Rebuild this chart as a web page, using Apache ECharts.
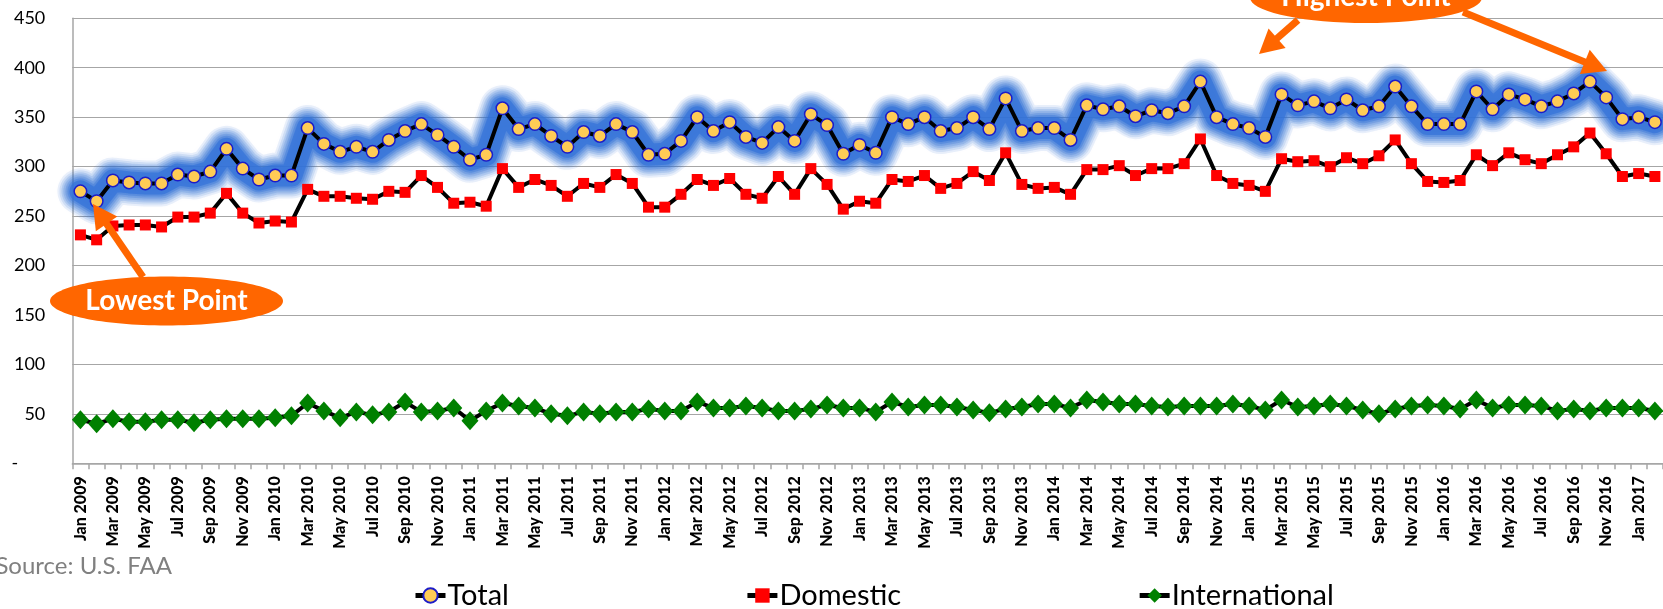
<!DOCTYPE html>
<html>
<head>
<meta charset="utf-8">
<script src="https://cdn.jsdelivr.net/npm/echarts@6/dist/echarts.min.js"></script>
<style>
html,body{margin:0;padding:0;background:#fff;}
#c{width:1663px;height:609px;}
</style>
</head>
<body>
<div id="c"></div>
<script>
const monthNames = ['Jan','Feb','Mar','Apr','May','Jun','Jul','Aug','Sep','Oct','Nov','Dec'];
const startYear = 2009;
const monthCount = 98; // Jan 2009 .. Feb 2017
const categories = [];
for (let i = 0; i < monthCount; i++) {
  categories.push(monthNames[i % 12] + ' ' + (startYear + Math.floor(i / 12)));
}

const totalValues = [
  275,265,286,284,283,283,292,290,295,318,298,287,
  291,291,339,323,315,320,315,327,336,343,332,320,
  307,312,359,338,343,331,320,335,331,343,335,312,
  313,326,350,336,345,330,324,340,326,353,342,313,
  322,314,350,343,350,336,339,350,338,369,336,339,
  339,327,362,358,361,351,357,354,361,386,350,343,
  339,330,373,362,366,359,368,357,361,381,361,343,
  343,343,376,358,373,368,361,366,374,386,370,348,
  350,345
];
const domesticValues = [
  231,226,240,241,241,239,249,249,253,273,253,243,
  245,244,277,270,270,268,267,275,274,291,279,263,
  264,260,298,279,287,281,270,283,279,292,283,259,
  259,272,287,281,288,272,268,290,272,298,282,257,
  265,263,287,285,291,278,283,295,286,314,282,278,
  279,272,297,297,301,291,298,298,303,328,291,283,
  281,275,308,305,306,300,309,303,311,327,303,285,
  284,286,312,301,314,307,303,312,320,334,313,290,
  293,290
];
const internationalValues = [
  44,40,45,42,42,44,44,41,44,45,45,45,
  46,48,61,53,46,52,49,52,62,52,53,56,
  43,53,61,58,56,50,48,52,50,52,52,55,
  53,53,62,56,56,58,56,53,53,55,59,56,
  56,52,62,57,59,59,57,54,51,55,57,60,
  60,56,64,62,60,60,58,57,58,58,58,60,
  58,54,64,57,58,60,58,54,50,55,58,59,
  58,55,64,56,59,59,58,53,55,53,56,56,
  56,53
];
const yTicks = { min: 0, max: 450, interval: 50 };
const seriesNames = ['Total', 'Domestic', 'International'];

const FONT = 'Lato, "Open Sans", sans-serif';
const ORANGE = '#FF6600';

function arrow(x1, y1, x2, y2) {
  const dx = x2 - x1, dy = y2 - y1;
  const len = Math.sqrt(dx * dx + dy * dy);
  const ux = dx / len, uy = dy / len;
  const px = -uy, py = ux;
  const headLen = 24, headW = 26;
  const bx = x2 - ux * headLen, by = y2 - uy * headLen;
  return [
    { type: 'line', shape: { x1: x1, y1: y1, x2: bx + ux * 2, y2: by + uy * 2 },
      style: { stroke: ORANGE, lineWidth: 7 }, z: 100 },
    { type: 'polygon', shape: { points: [[x2, y2], [bx + px * headW / 2, by + py * headW / 2], [bx - px * headW / 2, by - py * headW / 2]] },
      style: { fill: ORANGE }, z: 100 }
  ];
}

function glow(width, alpha, blur) {
  return {
    name: 'TotalGlow',
    type: 'line',
    data: totalValues,
    symbol: 'none',
    silent: true,
    lineStyle: {
      color: 'rgba(50,114,216,' + alpha + ')',
      width: width,
      cap: 'round',
      join: 'round',
      shadowBlur: blur,
      shadowColor: 'rgba(50,114,216,' + alpha + ')'
    },
    z: 1
  };
}

const glowSeries = [
  glow(46, 0.1, 8), glow(42, 0.12, 6), glow(38, 0.15, 6), glow(34, 0.18, 6),
  glow(30, 0.22, 6), glow(26, 0.3, 6), glow(22, 0.65, 6)
];

const chart = echarts.init(document.getElementById('c'), null, { renderer: 'canvas' });

const graphics = [].concat(
  [
    { type: 'ellipse', shape: { cx: 166.5, cy: 301, rx: 116.5, ry: 24.5 }, style: { fill: ORANGE }, z: 100 },
    { type: 'text', x: 166.5, y: 301, style: { text: 'Lowest Point', fill: '#fff', font: 'bold 28px ' + FONT, textAlign: 'center', textVerticalAlign: 'middle' }, z: 101 },
    { type: 'ellipse', shape: { cx: 1366, cy: -2.5, rx: 116, ry: 25.5 }, style: { fill: ORANGE }, z: 100 },
    { type: 'text', x: 1366, y: -3, style: { text: 'Highest Point', fill: '#fff', font: 'bold 28px ' + FONT, textAlign: 'center', textVerticalAlign: 'middle' }, z: 101 },
    { type: 'text', x: 172, y: 566, style: { text: 'Source: U.S. FAA', fill: '#808080', font: '24px ' + FONT, textAlign: 'right', textVerticalAlign: 'middle' }, z: 100 }
  ],
  arrow(143, 277, 93, 204),
  arrow(1298, 20, 1259, 54),
  arrow(1463, 12, 1607, 71)
);

chart.setOption({
  animation: false,
  backgroundColor: '#fff',
  grid: { left: 72.3, right: -3.5, top: 18.3, bottom: 145.7, containLabel: false },
  legend: {
    data: seriesNames,
    left: 408,
    top: 576,
    itemWidth: 30,
    itemHeight: 18,
    itemGap: 236,
    lineStyle: { width: 5 },
    textStyle: { fontFamily: FONT, fontSize: 29, color: '#000', padding: [0, 0, 0, -3] }
  },
  xAxis: {
    type: 'category',
    data: categories,
    boundaryGap: true,
    axisLine: { lineStyle: { color: '#a6a6a6', width: 1.5 } },
    axisTick: { show: true, interval: 0, length: 6, lineStyle: { color: '#a6a6a6', width: 1.5 } },
    axisLabel: {
      interval: 1,
      rotate: 90,
      margin: 13,
      fontFamily: FONT,
      fontWeight: 900,
      fontSize: 16,
      color: '#000'
    },
    splitLine: { show: false }
  },
  yAxis: {
    type: 'value',
    min: yTicks.min,
    max: yTicks.max,
    interval: yTicks.interval,
    axisLine: { show: true, lineStyle: { color: '#a6a6a6', width: 1.5 } },
    axisTick: { show: false },
    splitLine: { lineStyle: { color: '#a6a6a6', width: 1.2 } },
    axisLabel: {
      margin: 27,
      fontFamily: FONT,
      fontSize: 18,
      color: '#000',
      formatter: function (v) { return v === 0 ? '{d|-}' : String(v); },
      rich: { d: { fontFamily: FONT, fontSize: 18, color: '#000', padding: [0, 27, 0, 0] } }
    }
  },
  series: glowSeries.concat([
    {
      name: 'Total',
      type: 'line',
      data: totalValues,
      showAllSymbol: true,
      symbol: 'circle',
      symbolSize: 12.5,
      lineStyle: { color: '#000', width: 4 },
      itemStyle: { color: '#FFCC55', borderColor: '#1C1CC8', borderWidth: 1.5 },
      z: 2
    },
    {
      name: 'Domestic',
      type: 'line',
      data: domesticValues,
      showAllSymbol: true,
      symbol: 'rect',
      symbolSize: 11,
      lineStyle: { color: '#000', width: 4 },
      itemStyle: { color: '#FF0000' },
      z: 3
    },
    {
      name: 'International',
      type: 'line',
      data: internationalValues,
      showAllSymbol: true,
      symbol: 'diamond',
      symbolSize: [17, 19],
      lineStyle: { color: '#000', width: 4 },
      itemStyle: { color: '#008000' },
      z: 4
    }
  ]),
  graphic: graphics
});
</script>
</body>
</html>
